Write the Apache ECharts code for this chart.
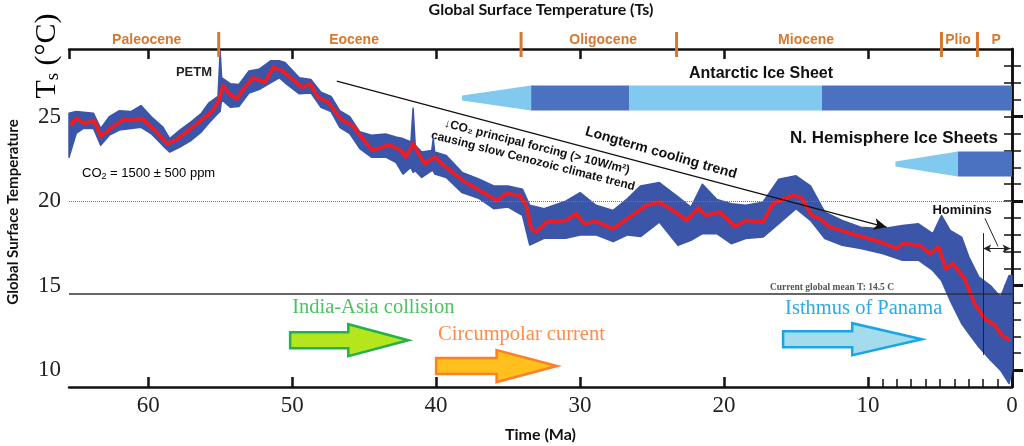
<!DOCTYPE html>
<html>
<head>
<meta charset="utf-8">
<script src="https://cdn.jsdelivr.net/npm/echarts@6/dist/echarts.min.js"></script>
<style>
  html, body { margin: 0; padding: 0; background: #fff; }
  #chart { width: 1024px; height: 446px; }
</style>
</head>
<body>
<div id="chart"></div>
<script>
// smoothed temperature record (red)
const redAge = [65.4, 65.0, 64.4, 63.75, 63.3, 62.5, 61.7, 61.2, 60.45, 59.5, 58.7, 58.1, 57.4, 56.5, 55.6, 55.1,
  54.8, 54.3, 53.85, 53.3, 52.7, 51.9, 51.3, 50.7, 50.0, 49.3, 48.75, 48.2, 47.5, 46.6, 45.8, 45.1, 44.4, 43.25,
  42.45, 42.1, 41.6, 40.8, 40.1, 39.3, 38.15, 37.0, 35.8, 35.1, 34.2, 33.75, 33.4, 33.05, 32.35, 30.95, 30.3, 29.7,
  28.9, 27.7, 26.4, 25.4, 24.5, 23.55, 22.6, 21.8, 21.25, 20.3, 19.26, 18.45, 17.3, 16.6, 15.8, 15.2, 14.6, 13.9,
  13.35, 12.65, 11.5, 10.35, 9.2, 8.0, 7.6, 6.4, 5.7, 5.1, 4.6, 4.1, 3.3, 2.6, 1.9, 1.2, 0.6, 0.15];
const redTemp = [24.47, 24.9, 24.6, 24.77, 23.84, 24.37, 24.83, 24.77, 24.9, 24.18, 23.4, 23.6, 24.04, 24.67, 25.26, 25.95,
  26.83, 26.3, 26.05, 26.73, 27.29, 27.03, 27.91, 27.72, 27.23, 26.73, 26.93, 26.14, 25.85, 24.85, 24.47, 23.69, 23.0, 23.33,
  23.0, 22.6, 23.39, 22.2, 22.6, 22.0, 21.22, 20.63, 20.04, 20.44, 20.34, 19.75, 18.37, 18.17, 18.76, 18.86, 19.25, 18.66,
  18.8, 18.37, 19.15, 19.75, 19.94, 19.45, 18.86, 19.59, 19.15, 19.35, 18.5, 18.86, 18.76, 19.85, 20.14, 20.34, 20.18, 19.15,
  18.96, 18.46, 18.17, 17.87, 17.6, 17.19, 17.48, 17.38, 16.9, 17.28, 16.0, 16.3, 15.42, 13.94, 13.05, 12.66, 11.97, 11.81];

// raw record envelope (blue)
const blueAge = [65.5, 65.0, 64.5, 63.8, 63.3, 62.7, 62.0, 61.2, 60.5, 59.8, 59.0, 58.5, 57.8, 57.0, 56.3, 55.8, 55.15,
  55.0, 54.9, 54.3, 53.7, 53.0, 52.3, 51.5, 50.9, 50.5, 49.5, 48.7, 48.0, 47.3, 46.7, 46.0, 45.3, 44.5, 43.5, 42.8, 42.3,
  41.75, 41.6, 41.45, 41.0, 40.3, 40.2, 40.1, 39.3, 38.2, 37.0, 36.0, 35.0, 34.0, 33.5, 32.5, 31.0, 30.0, 28.9, 27.7, 26.7,
  25.8, 24.5, 23.2, 22.3, 21.5, 20.5, 19.5, 18.5, 17.3, 16.2, 15.0, 14.0, 13.0, 11.8, 10.5, 9.0, 7.6, 6.5, 5.5, 4.9, 4.3,
  3.5, 3.0, 2.3, 1.5, 0.8, 0.2, 0.0];
const blueHi = [25.2, 25.3, 25.26, 25.2, 24.3, 25.0, 25.35, 25.3, 25.65, 25.0, 24.4, 23.7, 24.2, 24.7, 25.2, 25.8, 26.2,
  28.9, 27.3, 26.95, 26.9, 27.7, 27.8, 28.3, 28.3, 28.2, 27.3, 27.2, 26.45, 26.2, 25.35, 25.0, 24.1, 23.9, 23.97, 23.8, 23.7,
  23.5, 25.5, 23.3, 22.9, 23.0, 23.7, 22.9, 22.7, 21.7, 21.3, 20.9, 20.9, 20.7, 19.75, 19.55, 20.0, 20.5, 19.75, 19.45, 20.15,
  20.9, 21.1, 20.25, 19.65, 21.0, 20.1, 19.85, 19.75, 19.94, 21.3, 21.5, 20.9, 19.35, 18.86, 18.46, 18.36, 18.56, 18.66, 18.07, 19.15, 18.27,
  17.87, 16.7, 15.5, 15.0, 14.33, 15.6, 15.6];
const blueLo = [22.6, 24.0, 24.3, 24.3, 23.3, 23.9, 24.2, 24.3, 24.37, 24.0, 23.3, 22.9, 23.2, 23.6, 24.1, 24.6, 25.2,
  25.3, 26.0, 25.55, 25.6, 26.4, 26.6, 27.0, 27.3, 27.0, 26.35, 26.4, 25.55, 25.3, 24.37, 24.0, 23.1, 22.6, 22.6, 22.3, 21.6,
  22.0, 21.7, 21.8, 21.4, 21.8, 21.8, 21.6, 21.4, 20.5, 20.15, 19.55, 19.65, 19.15, 17.4, 17.8, 17.8, 18.0, 18.0, 17.6, 18.0,
  17.9, 18.76, 17.38, 17.68, 18.07, 18.07, 17.48, 17.78, 17.87, 18.66, 19.55, 18.86, 17.78, 17.38, 17.19, 16.9, 16.5, 16.5, 15.9, 15.3, 14.13,
  12.76, 12.17, 11.37, 10.6, 10.0, 9.2, 10.0];

// geologic epochs along the top
const epochNames = ['Paleocene', 'Eocene', 'Oligocene', 'Miocene', 'Plio', 'P'];
const epochMid = [60.1, 45.7, 28.4, 14.3, 3.75, 1.1];
const epochBounds = [55.1, 34.1, 23.3, 4.9, 2.4];

// ice sheets: [from Ma, to Ma, level, kind]  kind 0 = taper, 1 = dark, 2 = light
const antarcticIce = [[38.2, 33.4, 26.1, 0], [33.4, 26.6, 26.1, 1], [26.6, 13.2, 26.1, 2], [13.2, 0, 26.1, 1]];
const northIce = [[8.1, 3.75, 22.2, 0], [3.75, 0, 22.2, 1]];

// event arrows: [start Ma, head Ma, tip Ma, level]
const eventNames = ['India-Asia collision', 'Circumpolar current', 'Isthmus of Panama'];
const eventArrows = [[50.14, 46.1, 41.93, 11.77], [40.0, 35.8, 31.6, 10.24], [15.9, 11.1, 6.26, 11.83]];

const yMajor = [10, 15, 20, 25];
const yMinor = [11, 12, 13, 14, 16, 17, 18, 19, 21, 22, 23, 24, 26, 27, 28];
const yAll = [10, 11, 12, 13, 14, 15, 16, 17, 18, 19, 20, 21, 22, 23, 24, 25, 26, 27, 28];
const xMinor = [1, 2, 3, 4, 5, 6, 7, 8, 9];

const LIGHT = '#82c9f0';
const DARK = '#4a72c0';
const BLUE = '#3b55a9';
const ORANGE = '#d7782e';
const arrowColors = [
  { fill: '#b5e61d', stroke: '#22b14c', text: '#4cc35f' },
  { fill: '#ffc01e', stroke: '#ff7f27', text: '#ff8c4a' },
  { fill: '#a4dced', stroke: '#1aa5e6', text: '#2eaae2' }
];

const chart = echarts.init(document.getElementById('chart'));

function renderBand(params, api) {
  const pts = [];
  for (let i = 0; i < blueAge.length; i++) pts.push(api.coord([blueAge[i], blueHi[i]]));
  for (let i = blueAge.length - 1; i >= 0; i--) pts.push(api.coord([blueAge[i], blueLo[i]]));
  return {
    type: 'polygon',
    shape: { points: pts },
    style: { fill: BLUE, stroke: BLUE, lineWidth: 1.5, lineJoin: 'round' }
  };
}

function renderIce(params, api) {
  const a = api.coord([api.value(0), api.value(2)]);
  const b = api.coord([api.value(1), api.value(2)]);
  const kind = api.value(3);
  const h = 12.5;
  if (kind === 0) {
    return {
      type: 'polygon',
      shape: { points: [[a[0], a[1] - 2.5], [b[0], b[1] - h], [b[0], b[1] + h], [a[0], a[1] + 2.5]] },
      style: { fill: LIGHT }
    };
  }
  return {
    type: 'rect',
    shape: { x: a[0], y: a[1] - h, width: b[0] - a[0], height: 2 * h },
    style: { fill: kind === 1 ? DARK : LIGHT }
  };
}

function renderArrow(params, api) {
  const s = api.coord([api.value(0), api.value(3)]);
  const h = api.coord([api.value(1), api.value(3)]);
  const t = api.coord([api.value(2), api.value(3)]);
  const y = s[1], bh = 8, hh = 16;
  const c = arrowColors[params.dataIndex];
  return {
    type: 'polygon',
    shape: { points: [[s[0], y - bh], [h[0], y - bh], [h[0], y - hh], [t[0], y], [h[0], y + hh], [h[0], y + bh], [s[0], y + bh]] },
    style: { fill: c.fill, stroke: c.stroke, lineWidth: 2.5, lineJoin: 'miter' }
  };
}

function renderEpochBound(params, api) {
  const p = api.coord([api.value(0), 29]);
  return { type: 'rect', shape: { x: p[0] - 1.5, y: p[1] - 17, width: 3, height: 25 }, style: { fill: ORANGE } };
}

function renderEpochName(params, api) {
  const p = api.coord([api.value(0), 29]);
  return {
    type: 'text', x: p[0], y: p[1] - 9,
    style: { text: epochNames[params.dataIndex], fill: ORANGE, font: 'bold 14px "Liberation Sans"', align: 'center', verticalAlign: 'middle' }
  };
}

function renderEventName(params, api) {
  const p = api.coord([api.value(0), api.value(3)]);
  const offs = [-33, -31, -31];
  return {
    type: 'text', x: p[0] + 2, y: p[1] + offs[params.dataIndex],
    style: { text: eventNames[params.dataIndex], fill: arrowColors[params.dataIndex].text, font: '20.5px "Liberation Serif"', align: 'left', verticalAlign: 'middle' }
  };
}

const tickFont = { fontFamily: 'Liberation Serif', fontSize: 23, color: '#222' };
const axisLineStyle = { color: '#111', width: 2.5 };

chart.setOption({
  animation: false,
  grid: { left: 69, right: 12, top: 49, bottom: 59, outerBoundsMode: 'none' },
  xAxis: [
    {
      type: 'value', position: 'bottom', inverse: true, min: 0, max: 65.5, interval: 10,
      axisLine: { lineStyle: axisLineStyle },
      axisTick: { inside: true, length: 10, lineStyle: { color: '#111', width: 2.5 } },
      axisLabel: Object.assign({ margin: 7, showMaxLabel: false }, tickFont),
      splitLine: { show: false },
      name: 'Time (Ma)', nameLocation: 'middle', nameGap: 40,
      nameTextStyle: { fontFamily: 'Lato', fontWeight: 'bold', fontSize: 16, color: '#111' }
    },
    {
      type: 'value', position: 'bottom', inverse: true, min: 0, max: 65.5,
      axisLine: { show: false },
      axisTick: { inside: true, length: 8, customValues: xMinor, lineStyle: { color: '#111', width: 1.5 } },
      axisLabel: { show: false },
      splitLine: { show: false }
    },
    {
      type: 'value', position: 'top', inverse: true, min: 0, max: 65.5, interval: 10,
      axisLine: { lineStyle: axisLineStyle },
      axisTick: { inside: true, length: 10, lineStyle: { color: '#111', width: 2.5 } },
      axisLabel: { show: false },
      splitLine: { show: false }
    }
  ],
  yAxis: [
    {
      type: 'value', position: 'left', min: 9, max: 29,
      axisLine: { lineStyle: axisLineStyle },
      axisTick: { inside: true, length: 11, customValues: yMajor, lineStyle: { color: '#111', width: 3 } },
      axisLabel: Object.assign({ margin: 8, customValues: yMajor }, tickFont),
      splitLine: { show: false }
    },
    {
      type: 'value', position: 'left', min: 9, max: 29,
      axisLine: { show: false },
      axisTick: { inside: true, length: 9, customValues: yMinor, lineStyle: { color: '#111', width: 1.5 } },
      axisLabel: { show: false },
      splitLine: { show: false }
    },
    {
      type: 'value', position: 'right', min: 9, max: 29,
      axisLine: { lineStyle: axisLineStyle },
      axisTick: { inside: true, length: 8, customValues: yAll, lineStyle: { color: '#111', width: 1.5 } },
      axisLabel: { show: false },
      splitLine: { show: false }
    }
  ],
  series: [
    {
      type: 'custom', name: 'ice', renderItem: renderIce, clip: false, z: 1,
      data: antarcticIce.concat(northIce), encode: { x: [0, 1], y: 2 }
    },
    {
      type: 'custom', name: 'raw', renderItem: renderBand, z: 2,
      data: [[blueAge[0], blueHi[0]]]
    },
    {
      type: 'line', name: 'smoothed', z: 3, symbol: 'none',
      data: redAge.map((a, i) => [a, redTemp[i]]),
      lineStyle: { color: '#ee1d25', width: 3.8, join: 'round' },
      markLine: {
        silent: true, symbol: ['none', 'none'], label: { show: false },
        data: [
          { yAxis: 20, lineStyle: { type: 'dotted', color: '#777', width: 1 } },
          { yAxis: 14.5, lineStyle: { type: 'solid', color: '#333', width: 1.5 } },
          [{ coord: [46.9, 27.1], lineStyle: { type: 'solid', color: '#111', width: 1.3 } },
           { coord: [8.7, 18.45], symbol: 'arrow', symbolSize: [9, 13] }],
          [{ coord: [2.0, 18.1], lineStyle: { type: 'solid', color: '#222', width: 1 } }, { coord: [2.0, 10.9] }],
          [{ coord: [2.0, 17.2], symbol: 'arrow', symbolSize: [6, 8], lineStyle: { type: 'solid', color: '#222', width: 1 } },
           { coord: [0.1, 17.2], symbol: 'arrow', symbolSize: [6, 8] }],
          [{ coord: [1.88, 18.98], lineStyle: { type: 'solid', color: '#222', width: 1 } }, { coord: [0.97, 17.32] }]
        ]
      }
    },
    {
      type: 'custom', name: 'events', renderItem: renderArrow, clip: false, z: 4,
      data: eventArrows, encode: { x: [0, 1, 2], y: 3 }
    },
    {
      type: 'custom', name: 'eventNames', renderItem: renderEventName, clip: false, z: 4,
      data: eventArrows, encode: { x: 0, y: 3 }
    },
    {
      type: 'custom', name: 'epochBounds', renderItem: renderEpochBound, clip: false, z: 5,
      data: epochBounds.map(a => [a, 29]), encode: { x: 0, y: 1 }
    },
    {
      type: 'custom', name: 'epochNames', renderItem: renderEpochName, clip: false, z: 5,
      data: epochMid.map(a => [a, 29]), encode: { x: 0, y: 1 }
    }
  ],
  graphic: [
    { type: 'text', x: 541, y: 10, style: { text: 'Global Surface Temperature (Ts)', font: 'bold 16px Lato', fill: '#111', align: 'center', verticalAlign: 'middle' } },
    { type: 'text', x: 13, y: 212, rotation: Math.PI / 2, style: { text: 'Global Surface Temperature', font: 'bold 15px Lato', fill: '#111', align: 'center', verticalAlign: 'middle' } },
    {
      type: 'text', x: 47, y: 56, rotation: Math.PI / 2,
      style: {
        text: '{t|T}{s|s}{u| (°C)}', align: 'center', verticalAlign: 'middle',
        rich: {
          t: { fontFamily: 'Liberation Serif', fontSize: 30, color: '#222', lineHeight: 32, verticalAlign: 'middle' },
          s: { fontFamily: 'Liberation Serif', fontSize: 19, color: '#222', lineHeight: 32, verticalAlign: 'bottom' },
          u: { fontFamily: 'Liberation Serif', fontSize: 30, color: '#222', lineHeight: 32, verticalAlign: 'middle' }
        }
      }
    },
    { type: 'text', x: 194, y: 72, style: { text: 'PETM', font: 'bold 13px "Liberation Sans"', fill: '#222', align: 'center', verticalAlign: 'middle' } },
    {
      type: 'text', x: 82, y: 173,
      style: {
        text: '{a|CO}{b|2}{a| = 1500 ± 500 ppm}', align: 'left', verticalAlign: 'middle',
        rich: {
          a: { fontFamily: 'Liberation Sans', fontSize: 13, color: '#222', lineHeight: 16, verticalAlign: 'middle' },
          b: { fontFamily: 'Liberation Sans', fontSize: 9, color: '#222', lineHeight: 16, verticalAlign: 'bottom' }
        }
      }
    },
    { type: 'text', x: 761, y: 74, style: { text: 'Antarctic Ice Sheet', font: 'bold 16px "Liberation Sans"', fill: '#111', align: 'center', verticalAlign: 'middle' } },
    { type: 'text', x: 894, y: 138, style: { text: 'N. Hemisphere Ice Sheets', font: 'bold 17px "Liberation Sans"', fill: '#111', align: 'center', verticalAlign: 'middle' } },
    { type: 'text', x: 962, y: 210, style: { text: 'Hominins', font: 'bold 13px "Liberation Sans"', fill: '#111', align: 'center', verticalAlign: 'middle' } },
    { type: 'text', x: 832, y: 288, style: { text: 'Current global mean T: 14.5 C', font: 'bold 9.5px "Liberation Serif"', fill: '#555', align: 'center', verticalAlign: 'middle' } },
    { type: 'text', x: 661, y: 153, rotation: -0.28, style: { text: 'Longterm cooling trend', font: 'bold 14px "Liberation Sans"', fill: '#111', align: 'center', verticalAlign: 'middle' } },
    { type: 'text', x: 537, y: 147, rotation: -0.25, style: { text: '\u2193CO\u2082 principal forcing (> 10W/m\u00b2)', font: 'bold 12px "Liberation Sans", "DejaVu Sans"', fill: '#111', align: 'center', verticalAlign: 'middle' } },
    { type: 'text', x: 533, y: 161, rotation: -0.25, style: { text: 'causing slow Cenozoic climate trend', font: 'bold 12px "Liberation Sans"', fill: '#111', align: 'center', verticalAlign: 'middle' } }
  ]
});
</script>
</body>
</html>
